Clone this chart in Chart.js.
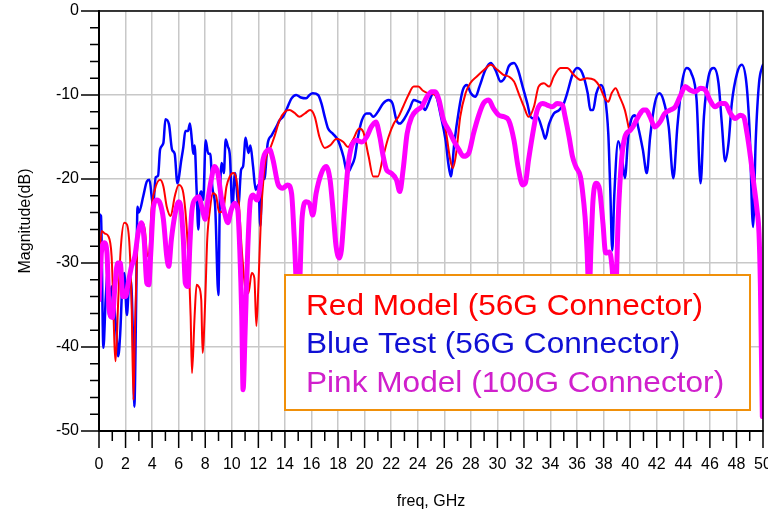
<!DOCTYPE html>
<html>
<head>
<meta charset="utf-8">
<script src="https://cdn.jsdelivr.net/npm/chart.js@4.4.0/dist/chart.umd.min.js"></script>
<style>
  html, body { margin: 0; padding: 0; background: #fff; }
</style>
</head>
<body>
<canvas id="myChart" width="768" height="513"></canvas>
<script>
// ---------- DATA ----------

var redFreq = [0, 0.2, 0.45, 0.7, 0.95, 1.25, 1.45, 1.65, 1.9, 2.1, 2.3, 2.45, 2.6, 2.7, 2.85, 3.0, 3.2, 3.45, 3.65, 3.8, 3.95,
  4.2, 4.6, 4.85, 5.1, 5.4, 5.7, 6.0, 6.3, 6.5, 6.7, 6.9, 7.0, 7.2, 7.35, 7.5, 7.7, 7.8, 8.0, 8.15, 8.35, 8.55, 8.8,
  9.05, 9.35, 9.6, 9.85, 10.1, 10.35, 10.55, 10.75, 11.0, 11.25, 11.5, 11.7, 11.85, 12.0, 12.2, 12.4, 12.6, 12.85,
  13.2, 13.6, 14.0, 14.35, 14.7, 15.1, 15.5, 15.9, 16.25, 16.6, 17.0, 17.4, 17.9, 18.4, 18.75, 19.1, 19.6, 19.9,
  20.3, 20.65, 21.0, 21.4, 21.8, 22.2, 22.55, 22.9, 23.3, 23.7, 24.05, 24.4, 24.8, 25.2, 25.5, 25.8, 26.15, 26.45,
  26.65, 26.9, 27.2, 27.6, 27.95, 28.45, 29.0, 29.5, 30.0, 30.45, 30.85, 31.25, 31.6, 32.0, 32.35, 32.75, 33.1,
  33.5, 33.9, 34.25, 34.75, 35.25, 35.75, 36.25, 36.75, 37.3, 37.7, 38.1, 38.35, 38.6, 38.9, 39.2, 39.6, 39.9];
var redMag = [-30.5, -26.2, -26.5, -26.8, -29.2, -41.7, -34.4, -28, -25.2, -25.4, -28, -34.4, -46.3, -38.3, -29.6, -25.6, -25.2, -26, -29.2, -28.5, -23.7,
  -21.3, -20.1, -20.9, -23.3, -24.4, -22.1, -20.7, -21.3, -23.7, -28.4, -36.3, -43.1, -36.3, -32.6, -32.8, -34.4, -40.7, -34.4, -27.2, -23.7, -21.7, -21.9,
  -24, -23.7, -20.9, -19.7, -19.3, -20.1, -23.3, -28.4, -32.8, -33.6, -31.2, -31.8, -37.5, -32.8, -24.4, -19.7, -17.3, -16.5,
  -15, -13, -12, -11.8, -12.1, -12.6, -12.2, -11.8, -12.6, -15, -16.3, -16, -15.2, -15.6, -16.2, -15.4, -14, -14.4,
  -17.3, -19.7, -19.7, -17.3, -15, -13.4, -12.6, -11.4, -10, -9, -9, -9.5, -9.8, -9.9, -10.5, -11.8, -14.6, -17.7,
  -18.7, -16.9, -12.6, -9.8, -8.6, -7.8, -7, -6.4, -7, -7.6, -7.8, -8.4, -9.8, -11.4, -12.6, -11.4, -9,
  -8.6, -9, -7.8, -6.8, -6.8, -7.6, -8.2, -8, -8.2, -9, -10.4, -10.8, -9.8, -9.2, -10.2, -11.8, -14];

var blueFreq = [0, 0.15, 0.33, 0.5, 0.65, 0.75, 0.95, 1.1, 1.3, 1.45, 1.6, 1.75, 1.9, 2.1, 2.25, 2.4, 2.55, 2.66, 2.8, 2.9, 3.0,
  3.34, 3.6, 3.8, 4.07, 4.27, 4.45, 4.6, 4.85, 5.0, 5.27, 5.5, 5.7, 5.9, 6.2, 6.35, 6.5, 6.7, 6.85, 7.0, 7.1, 7.2, 7.35,
  7.48, 7.6, 7.7, 7.85, 8.03, 8.23, 8.38, 8.53, 8.75, 8.99, 9.1, 9.24, 9.4, 9.54, 9.7, 9.86, 10.04, 10.24, 10.5, 10.7,
  10.85, 11.04, 11.25, 11.4, 11.6, 11.8, 12.0, 12.15, 12.3, 12.45, 12.7, 13.0, 13.35, 13.6, 13.85, 14.1, 14.5, 14.85,
  15.2, 15.6, 15.85, 16.1, 16.5, 16.75, 17.0, 17.25, 17.6, 18.0, 18.4, 18.7, 19.0, 19.25, 19.5, 19.8, 20.15, 20.4,
  20.65, 21.0, 21.4, 21.8, 22.1, 22.4, 22.65, 23.0, 23.4, 23.7, 24.05, 24.3, 24.55, 24.8, 25.05, 25.2, 25.45, 25.7,
  26.1, 26.3, 26.5, 26.75, 27.1, 27.4, 27.7, 28.0, 28.35, 28.65, 29.1, 29.5, 29.85, 30.25, 30.6, 30.85, 31.25, 31.55,
  31.9, 32.25, 32.5, 32.75, 33.0, 33.4, 33.6, 33.9, 34.25, 34.65, 35.0, 35.25, 35.65, 36.0, 36.4, 36.8, 37.0, 37.2,
  37.45, 37.8, 38.1, 38.35, 38.5, 38.65, 38.8, 39.1, 39.35, 39.6, 39.85, 40.1, 40.35, 40.6, 40.95, 41.25, 41.5, 41.85,
  42.2, 42.5, 42.9, 43.25, 43.55, 43.9, 44.25, 44.6, 45.0, 45.3, 45.55, 45.9, 46.3, 46.65, 46.9, 47.15, 47.4, 47.65,
  48.05, 48.4, 48.75, 49.0, 49.25, 49.45, 49.7, 49.95, 50];
var blueMag = [-24.2, -24.4, -40.1, -34.4, -31.2, -36.3, -32.8, -34.4, -38, -41.1, -38.3, -32.8, -31.2, -36.2, -32.8, -32, -38.3, -47.1, -34.4, -23.3, -24,
  -22, -20.3, -20.1, -23.2, -19.8, -19.6, -16.5, -15.7, -12.9, -13.5, -16.5, -17, -20.5, -17.7, -16.2, -14.3, -14.3, -13.4, -15.5, -17, -16, -21.3,
  -26, -22, -21.5, -22.5, -15.4, -17, -17, -20.9, -23.3, -33.8, -22.5, -18.1, -19.3, -15.3, -16.1, -17.3, -23.5, -19.3, -23.1, -18.9,
  -18.5, -15.1, -16.9, -16, -18.5, -21.3, -20.7, -25.6, -20, -20, -15.8, -14.8, -13.8, -13, -12.6, -11.8, -10.4, -10,
  -10.3, -10.4, -10, -9.8, -10, -11, -12.6, -14, -14.6, -15.4, -17.3, -19.3, -18.5, -17.5, -15, -13, -12.2, -12.2,
  -12.6, -12, -11, -10.6, -11, -13, -13.4, -12.8, -11.6, -10.6, -10.8, -11, -11.8, -11, -10, -9.8, -10.4, -12.2,
  -15.4, -18.1, -19.7, -15.8, -11.8, -9.4, -8.8, -9.8, -10.2, -9, -7, -6.2, -7, -8.4, -7.8, -6.6, -6.2, -7,
  -9, -11, -12.6, -12.8, -12.6, -14.2, -15.2, -13.4, -12.2, -11.8, -11, -9.8, -7.6, -6.8, -7.4, -9.8, -11.8, -11.8,
  -9.8, -8.8, -10.2, -14.6, -21.3, -28.5, -22, -15.5, -17, -19.9, -15, -12.8, -12.4, -13.8, -16.5, -19.3, -15, -11,
  -9.8, -10.6, -13.8, -19.9, -13.8, -8.6, -6.8, -7.4, -10.6, -20.5, -12.6, -7.8, -6.8, -8.6, -13.4, -17.9, -15.8, -11,
  -7.4, -6.4, -8.6, -14.6, -25.7, -15.5, -8.6, -6.6, -6.4];

var pinkFreq = [0, 0.2, 0.4, 0.6, 0.75, 1.0, 1.2, 1.4, 1.6, 1.8, 2.0, 2.2, 2.45, 2.7, 2.95, 3.2, 3.4, 3.6, 3.75, 3.9, 4.1,
  4.35, 4.6, 4.85, 5.1, 5.25, 5.45, 5.7, 6.0, 6.15, 6.35, 6.5, 6.7, 6.85, 7.0, 7.3, 7.5, 7.8, 8.0, 8.2, 8.45, 8.7,
  8.95, 9.2, 9.45, 9.7, 9.95, 10.2, 10.45, 10.6, 10.75, 10.85, 11.0, 11.2, 11.4, 11.6, 11.9, 12.1, 12.35, 12.6, 12.85,
  13.1, 13.5, 13.85, 14.2, 14.5, 14.7, 15.0, 15.3, 15.6, 15.85, 16.1, 16.35, 16.75, 17.1, 17.4, 17.6, 17.85, 18.1,
  18.25, 18.5, 18.75, 19.0, 19.4, 19.8, 20.15, 20.5, 20.85, 21.15, 21.4, 21.65, 22.0, 22.4, 22.65, 22.9, 23.2, 23.55,
  23.95, 24.3, 24.7, 25.05, 25.3, 25.6, 25.95, 26.35, 26.7, 27.1, 27.45, 27.85, 28.2, 28.6, 28.95, 29.35, 29.7, 30.1,
  30.5, 30.85, 31.25, 31.55, 31.9, 32.1, 32.35, 32.75, 33.0, 33.4, 33.75, 34.15, 34.5, 34.9, 35.1, 35.4, 35.65, 35.9,
  36.25, 36.4, 36.6, 36.75, 36.9, 37.05, 37.2, 37.45, 37.7, 37.95, 38.15, 38.45, 38.65, 38.85, 39.1, 39.35, 39.6, 40.0,
  40.2, 40.6, 41.0, 41.2, 41.5, 41.85, 42.25, 42.6, 43.0, 43.4, 43.75, 44.15, 44.5, 44.9, 45.3, 45.65, 46.0, 46.4,
  46.8, 47.15, 47.55, 47.9, 48.3, 48.55, 48.8, 49.05, 49.3, 49.55, 49.7, 49.8, 49.95];
var pinkMag = [-34.4, -28.4, -27.6, -28.8, -35.2, -36.5, -32.8, -30, -30, -34, -34, -32.4, -30.4, -29.2, -26.4, -25.2, -27.2, -32.4, -32.6, -28.8, -23.3,
  -22.5, -22.9, -24.8, -29.2, -30.4, -27.2, -24.4, -22.7, -23.2, -27.2, -32.4, -32.8, -27.6, -23.7, -22.3, -22.1, -23.7, -24.8, -22.5, -20.1, -18.5,
  -19.3, -22.1, -24, -25.2, -23.7, -22.9, -23.7, -28.4, -36.3, -45.1, -38.3, -28.4, -22.5, -21.9, -22.5, -21.2, -17.7, -16.7, -16.5,
  -17.7, -20.7, -21.1, -20.7, -21.7, -26.9, -36, -24.5, -22.7, -22.9, -24.3, -21.7, -19.3, -18.5, -20.1, -23.3, -28, -29.4,
  -28.5, -23.3, -18.5, -16.2, -15.4, -15.6, -15, -13.8, -13.2, -15, -17.3, -18.9, -19.3, -20.1, -21.5, -18.9, -14.6, -12.6,
  -11.8, -11.4, -10.2, -9.6, -9.6, -10.6, -13, -14.2, -15.4, -16.5, -17.3, -16.9, -14.6, -12.4, -11, -10.6, -11.6, -12.4,
  -12.6, -13, -15.4, -18.5, -20.7, -20.5, -17.7, -13.8, -11.8, -11, -11.2, -11.4, -11, -11.2, -12.6, -15, -17.3, -18.5,
  -19.7, -21.3, -24.5, -28.5, -34, -28, -22.5, -20.5, -21.3, -25.3, -28.8, -28.7, -30.8, -36, -24.5, -17.7, -15, -14.2,
  -13.8, -12.6, -11.8, -11.8, -12.6, -13.8, -13.2, -12.2, -11.8, -11.4, -10.2, -9, -9.4, -9.6, -9.2, -9.4, -10.6, -11.4,
  -11, -11, -12.2, -12.8, -12.4, -12.6, -14.6, -17.3, -20.5, -23.7, -26.5, -32.4, -48.3];

var legendLabels = ["Red Model (56G Connector)", "Blue Test (56G Connector)", "Pink Model (100G Connector)"];
var legendColors = ["#ff0000", "#1010d4", "#d020cc"];

// ---------- HELPERS ----------

function toPoints(xs, ys) {
  var pts = [];
  for (var i = 0; i < xs.length; i++) pts.push({ x: xs[i], y: ys[i] });
  return pts;
}

var fontFam = '"Liberation Sans", Arial, sans-serif';

// minor/major tick marks + top/right frame
var axisTicks = {
  id: 'axisTicks',
  afterDraw: function(chart) {
    var ctx = chart.ctx, a = chart.chartArea, x = chart.scales.x, y = chart.scales.y;
    ctx.save();
    ctx.strokeStyle = '#000';
    ctx.lineWidth = 1.5;
    ctx.beginPath();
    for (var v = 0; v <= 50; v++) {
      var px = x.getPixelForValue(v);
      ctx.moveTo(px, a.bottom);
      ctx.lineTo(px, a.bottom + (v % 2 === 0 ? 17 : 10));
    }
    for (var w = -50; w <= 0; w += 2) {
      var py = y.getPixelForValue(w);
      ctx.moveTo(a.left - (w % 10 === 0 ? 18 : 9), py);
      ctx.lineTo(a.left, py);
    }
    ctx.stroke();
    // frame
    ctx.lineWidth = 1.5;
    ctx.beginPath();
    ctx.moveTo(a.left, a.top);
    ctx.lineTo(a.right, a.top);
    ctx.lineTo(a.right, a.bottom);
    ctx.stroke();
    ctx.lineWidth = 2;
    ctx.beginPath();
    ctx.moveTo(a.left, a.top);
    ctx.lineTo(a.left, a.bottom);
    ctx.lineTo(a.right, a.bottom);
    ctx.stroke();
    ctx.restore();
  }
};

// boxed legend drawn over the curves
var boxLegend = {
  id: 'boxLegend',
  afterDatasetsDraw: function(chart) {
    var ctx = chart.ctx;
    ctx.save();
    ctx.fillStyle = '#fff';
    ctx.fillRect(285, 275, 465, 135);
    ctx.strokeStyle = '#f0900a';
    ctx.lineWidth = 2;
    ctx.strokeRect(285, 275, 465, 135);
    ctx.font = '29px ' + fontFam;
    ctx.textBaseline = 'alphabetic';
    for (var i = 0; i < legendLabels.length; i++) {
      ctx.save();
      ctx.translate(306, 315 + i * 38.3);
      ctx.scale(1.09, 1);
      ctx.fillStyle = legendColors[i];
      ctx.fillText(legendLabels[i], 0, 0);
      ctx.restore();
    }
    ctx.restore();
  }
};

// ---------- CHART ----------

var ctx = document.getElementById('myChart').getContext('2d');
var myChart = new Chart(ctx, {
  type: 'line',
  data: {
    datasets: [{
      label: legendLabels[2],
      data: toPoints(pinkFreq, pinkMag),
      borderColor: '#ff00ff',
      borderWidth: 5
    }, {
      label: legendLabels[0],
      data: toPoints(redFreq, redMag),
      borderColor: '#ff0000',
      borderWidth: 2
    }, {
      label: legendLabels[1],
      data: toPoints(blueFreq, blueMag),
      borderColor: '#0000ff',
      borderWidth: 2.5
    }]
  },
  options: {
    responsive: false,
    animation: false,
    layout: { padding: { top: 11, right: 5, left: 0, bottom: 0 } },
    elements: {
      point: { radius: 0 },
      line: { cubicInterpolationMode: 'monotone', borderJoinStyle: 'round', borderCapStyle: 'round' }
    },
    plugins: {
      legend: { display: false },
      tooltip: { enabled: false }
    },
    scales: {
      x: {
        type: 'linear',
        min: 0,
        max: 50,
        ticks: {
          stepSize: 1,
          autoSkip: false,
          maxRotation: 0,
          padding: 24,
          color: '#000',
          font: { size: 16, family: fontFam },
          callback: function(v) { return v % 2 === 0 ? v : ''; }
        },
        grid: {
          color: function(c) { return c.tick && c.tick.value % 2 === 0 ? '#c8c8c8' : 'rgba(0,0,0,0)'; },
          lineWidth: 1.5,
          drawTicks: false
        },
        border: { color: '#000', width: 2 },
        title: {
          display: true,
          text: 'freq, GHz',
          color: '#000',
          font: { size: 16, family: fontFam },
          padding: { top: 0, bottom: 2 }
        },
        afterFit: function(s) { s.height = 82; s.paddingLeft = 0; s.paddingRight = 0; }
      },
      y: {
        min: -50,
        max: 0,
        ticks: {
          stepSize: 2,
          autoSkip: false,
          padding: 20,
          color: '#000',
          font: { size: 16, family: fontFam },
          callback: function(v) { return v % 10 === 0 ? v : ''; }
        },
        grid: {
          color: function(c) { return c.tick && c.tick.value % 10 === 0 ? '#c8c8c8' : 'rgba(0,0,0,0)'; },
          lineWidth: 1.5,
          drawTicks: false
        },
        border: { color: '#000', width: 2 },
        title: {
          display: true,
          text: 'Magnitude(dB)',
          color: '#000',
          font: { size: 16, family: fontFam },
          padding: { top: 16, bottom: 0 }
        },
        afterFit: function(s) { s.width = 99; s.paddingTop = 0; s.paddingBottom = 0; }
      }
    }
  },
  plugins: [boxLegend, axisTicks]
});
</script>
</body>
</html>
